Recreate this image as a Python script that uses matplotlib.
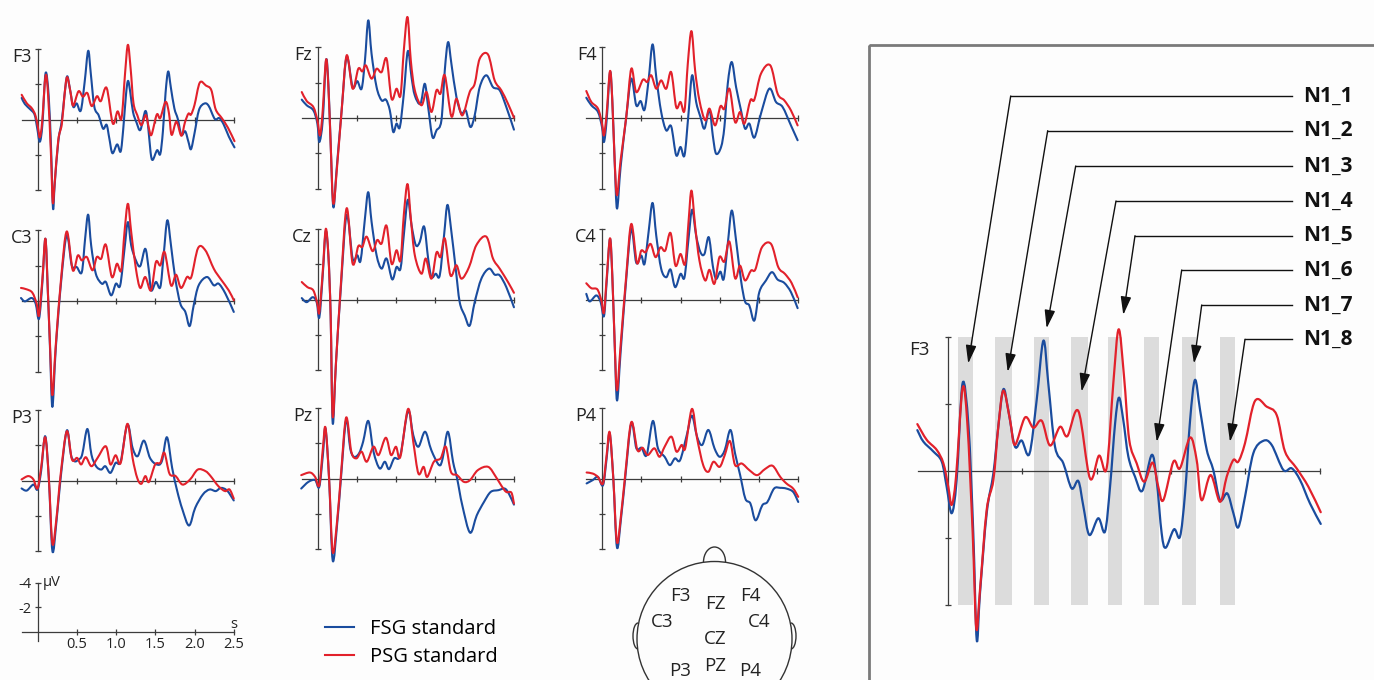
import matplotlib
matplotlib.use('Agg')
import matplotlib.pyplot as plt
from matplotlib.patches import Rectangle, Circle, Arc, PathPatch
from matplotlib.path import Path
from matplotlib.lines import Line2D
from matplotlib.ticker import FormatStrFormatter

plt.rcParams['font.family'] = ['Open Sans', 'DejaVu Sans']
plt.rcParams['axes.unicode_minus'] = False

W, H = 1374, 680
BLUE = '#1a4c9e'
RED = '#e2212b'
AXC = '#3c3c3c'

# grand-average ERPs, time in s, amplitude in uV (negative plotted upwards)
F3_T_FSG = [-0.204, -0.164, -0.096, -0.04, -0.007, 0.027, 0.06, 0.1, 0.14, 0.172,
            0.195, 0.217, 0.262, 0.307, 0.34, 0.374, 0.407, 0.452, 0.497, 0.549,
            0.598, 0.643, 0.676, 0.721, 0.777, 0.833, 0.878, 0.912, 0.952, 1.012,
            1.057, 1.091, 1.125, 1.151, 1.18, 1.214, 1.259, 1.308, 1.371, 1.404,
            1.438, 1.465, 1.521, 1.561, 1.595, 1.629, 1.662, 1.696, 1.741, 1.785,
            1.83, 1.879, 1.92, 1.953, 1.998, 2.054, 2.121, 2.177, 2.256, 2.312,
            2.368, 2.435, 2.507]
F3_UV_FSG = [-1.22, -0.88, -0.58, -0.28, 0.47, 1.26, 0.27, -2.62, -1.32, 1.86,
             5.04, 3.65, 1.26, 0.07, -1.32, -2.44, -1.82, -0.73, -0.91, -0.51,
             -2.12, -3.89, -2.62, -0.73, -0.23, 0.52, 0.3, 1.06, 1.91, 1.41,
             1.81, 0.47, -1.42, -2.19, -1.52, -0.43, 0.17, 0.59, -0.48, 0.27,
             1.86, 2.29, 1.74, 1.96, 0.67, -1.52, -2.72, -1.82, -0.63, -0.03,
             0.87, 0.67, 1.26, 1.68, 0.77, -0.53, -0.9, -0.78, -0.03, -0.08,
             0.27, 0.97, 1.58]
F3_T_PSG = [-0.204, -0.141, -0.074, -0.029, 0.004, 0.027, 0.056, 0.1, 0.132, 0.168,
            0.192, 0.217, 0.262, 0.307, 0.34, 0.374, 0.419, 0.452, 0.52, 0.576,
            0.632, 0.688, 0.755, 0.804, 0.878, 0.956, 1.017, 1.068, 1.113, 1.149,
            1.185, 1.22, 1.27, 1.321, 1.377, 1.415, 1.449, 1.517, 1.561, 1.629,
            1.673, 1.706, 1.767, 1.83, 1.875, 1.92, 1.953, 1.998, 2.065, 2.144,
            2.211, 2.267, 2.345, 2.424, 2.507]
F3_UV_PSG = [-1.4, -0.93, -0.63, -0.23, 0.47, 1.01, 0.17, -2.47, -1.42, 1.86,
             4.7, 3.55, 1.16, 0.27, -1.32, -2.4, -1.52, -0.78, -1.6, -1.29,
             -1.5, -0.76, -1.32, -1.04, -1.79, 0.22, -0.46, -0.08, -2.62, -4.23,
             -2.82, -0.93, -0.23, 0.32, -0.25, 0.47, 0.87, -0.28, -0.08, -1.0,
             -0.33, 0.87, 0.12, 0.92, 0.17, -0.33, -0.28, -0.83, -2.09, -1.92,
             -1.67, -0.58, -0.08, 0.47, 1.23]

FZ_T_FSG = [-0.203, -0.14, -0.055, -0.004, 0.021, 0.064, 0.106, 0.136, 0.165, 0.199,
            0.24, 0.305, 0.369, 0.445, 0.504, 0.559, 0.602, 0.644, 0.686, 0.75,
            0.814, 0.869, 0.919, 0.962, 1.004, 1.047, 1.097, 1.148, 1.195, 1.237,
            1.309, 1.364, 1.407, 1.462, 1.513, 1.576, 1.619, 1.661, 1.703, 1.767,
            1.831, 1.886, 1.945, 2.0, 2.064, 2.148, 2.233, 2.318, 2.403, 2.5]
FZ_UV_FSG = [-1.04, -0.72, -0.43, 0.32, 1.36, 0.13, -3.26, -1.94, 1.45, 5.04,
             2.96, -0.43, -3.45, -1.75, -2.09, -1.66, -3.26, -5.53, -3.64, -1.75,
             -1.0, -1.04, -0.43, 0.79, 0.32, 0.51, -1.38, -3.79, -2.32, -1.28,
             -0.81, -1.94, -0.62, 1.08, 0.7, 0.13, -2.7, -4.3, -3.08, -1.19,
             -0.25, -0.43, 0.51, -0.15, -1.75, -2.42, -1.75, -1.57, -0.62, 0.66]
FZ_T_PSG = [-0.203, -0.14, -0.055, -0.004, 0.03, 0.064, 0.106, 0.136, 0.165, 0.199,
            0.25, 0.305, 0.369, 0.445, 0.517, 0.568, 0.614, 0.686, 0.75, 0.814,
            0.877, 0.941, 1.004, 1.055, 1.097, 1.144, 1.186, 1.237, 1.322, 1.386,
            1.449, 1.513, 1.564, 1.619, 1.703, 1.767, 1.843, 1.936, 2.0, 2.064,
            2.169, 2.254, 2.339, 2.424, 2.5]
FZ_UV_PSG = [-1.47, -0.96, -0.62, 0.13, 0.98, -0.43, -3.3, -1.75, 1.45, 4.85,
             2.58, -0.43, -3.55, -1.66, -2.79, -2.64, -2.98, -2.23, -2.79, -2.6,
             -3.36, -1.09, -1.66, -1.28, -3.83, -5.72, -3.26, -1.57, -0.72, -1.47,
             -0.34, -1.57, -1.38, -2.42, -0.09, -1.09, -0.15, -1.47, -1.94, -3.36,
             -3.6, -2.13, -1.57, -0.81, -0.02]

F4_T_FSG = [-0.2, -0.136, -0.051, 0.0, 0.025, 0.059, 0.102, 0.131, 0.161, 0.191,
            0.237, 0.309, 0.373, 0.436, 0.492, 0.542, 0.593, 0.644, 0.691, 0.754,
            0.818, 0.881, 0.945, 1.0, 1.051, 1.102, 1.148, 1.199, 1.254, 1.305,
            1.369, 1.411, 1.453, 1.517, 1.559, 1.602, 1.653, 1.708, 1.771, 1.822,
            1.877, 1.941, 2.025, 2.131, 2.216, 2.301, 2.407, 2.492]
F4_UV_FSG = [-1.15, -0.72, -0.34, 0.51, 1.36, 0.13, -2.6, -1.0, 2.4, 5.13,
             2.77, -0.06, -2.23, -0.72, -0.96, -0.47, -2.13, -4.17, -2.32, -0.34,
             0.7, 0.47, 2.11, 1.64, 2.11, -0.25, -2.42, -0.91, -0.06, 0.6,
             -0.47, 0.98, 2.02, 1.64, 0.51, -1.94, -3.17, -1.75, -0.43, 0.6,
             0.32, 1.11, -0.25, -1.66, -0.91, -0.62, 0.42, 1.26]
F4_T_PSG = [-0.2, -0.136, -0.051, 0.0, 0.025, 0.059, 0.102, 0.131, 0.161, 0.191,
            0.237, 0.309, 0.373, 0.436, 0.521, 0.576, 0.627, 0.691, 0.754, 0.818,
            0.881, 0.945, 1.0, 1.051, 1.093, 1.14, 1.186, 1.241, 1.314, 1.369,
            1.441, 1.508, 1.559, 1.623, 1.695, 1.758, 1.814, 1.89, 1.941, 2.025,
            2.144, 2.237, 2.322, 2.407, 2.492]
F4_UV_PSG = [-1.53, -0.91, -0.53, 0.32, 0.98, -0.25, -2.66, -1.0, 2.4, 4.38,
             2.4, -0.06, -2.79, -1.47, -2.17, -2.04, -2.42, -1.66, -2.13, -1.66,
             -2.6, -0.62, -0.91, -0.43, -3.08, -4.92, -2.7, -1.0, 0.13, -0.53,
             0.42, -0.66, -0.53, -1.66, 0.23, -0.34, 0.32, -1.0, -1.04, -2.51,
             -2.98, -1.38, -1.0, -0.43, 0.42]

C3_T_FSG = [-0.213, -0.162, -0.077, -0.026, 0.017, 0.06, 0.098, 0.128, 0.157, 0.187,
            0.23, 0.298, 0.37, 0.434, 0.498, 0.562, 0.604, 0.643, 0.681, 0.74,
            0.817, 0.868, 0.936, 0.996, 1.051, 1.106, 1.149, 1.191, 1.251, 1.306,
            1.37, 1.413, 1.447, 1.506, 1.562, 1.604, 1.651, 1.698, 1.753, 1.817,
            1.881, 1.936, 1.987, 2.051, 2.157, 2.243, 2.306, 2.391, 2.498]
C3_UV_FSG = [-0.17, 0.02, -0.17, 0.15, 1.0, -1.08, -3.53, -0.7, 2.7, 6.0,
             2.7, -1.08, -3.72, -2.02, -1.92, -1.64, -3.53, -4.89, -3.15, -1.55,
             -0.98, -1.08, -0.32, -0.98, -0.89, -2.96, -4.47, -3.15, -2.3, -1.98,
             -2.96, -1.83, -0.6, -1.08, -0.79, -2.58, -4.57, -3.15, -1.26, 0.15,
             0.62, 1.42, 0.25, -0.89, -1.36, -0.89, -0.98, -0.42, 0.62]
C3_T_PSG = [-0.213, -0.14, -0.068, -0.013, 0.017, 0.06, 0.098, 0.128, 0.157, 0.187,
            0.23, 0.298, 0.37, 0.447, 0.511, 0.562, 0.626, 0.698, 0.753, 0.809,
            0.868, 0.945, 1.009, 1.064, 1.106, 1.149, 1.191, 1.251, 1.306, 1.37,
            1.443, 1.506, 1.562, 1.617, 1.698, 1.762, 1.826, 1.902, 1.957, 2.043,
            2.136, 2.243, 2.328, 2.434, 2.498]
C3_UV_PSG = [-0.74, -0.66, -0.47, 0.15, 0.81, -1.26, -3.53, -0.7, 2.51, 5.34,
             2.51, -1.26, -3.94, -1.74, -2.58, -2.3, -2.49, -1.74, -2.49, -2.4,
             -3.19, -1.36, -2.11, -1.74, -3.91, -5.51, -3.91, -1.83, -0.74, -1.36,
             -0.6, -2.21, -2.02, -2.77, -0.89, -1.49, -0.74, -1.36, -1.36, -3.0,
             -2.87, -1.83, -1.26, -0.6, -0.04]

CZ_T_FSG = [-0.203, -0.14, -0.064, -0.013, 0.021, 0.064, 0.102, 0.136, 0.165, 0.191,
            0.233, 0.297, 0.369, 0.445, 0.504, 0.547, 0.602, 0.644, 0.686, 0.75,
            0.814, 0.877, 0.949, 1.004, 1.055, 1.097, 1.148, 1.195, 1.25, 1.301,
            1.356, 1.407, 1.449, 1.504, 1.555, 1.61, 1.653, 1.703, 1.758, 1.809,
            1.873, 1.936, 2.0, 2.085, 2.182, 2.254, 2.318, 2.403, 2.5]
CZ_UV_FSG = [-0.08, 0.15, -0.13, 0.15, 1.01, -1.37, -3.84, -2.51, 0.91, 7.0,
             3.57, -0.8, -4.79, -2.32, -2.51, -2.22, -4.6, -6.08, -4.41, -2.51,
             -1.75, -2.32, -1.14, -1.84, -1.75, -3.65, -5.65, -4.22, -3.08, -3.27,
             -4.13, -2.32, -1.27, -1.46, -1.37, -3.65, -5.36, -3.84, -1.75, 0.15,
             0.91, 1.48, 0.15, -1.18, -1.75, -1.41, -1.37, -0.7, 0.44]
CZ_T_PSG = [-0.203, -0.131, -0.055, -0.004, 0.021, 0.064, 0.102, 0.136, 0.165, 0.191,
            0.233, 0.297, 0.369, 0.445, 0.517, 0.568, 0.623, 0.699, 0.758, 0.814,
            0.877, 0.941, 1.004, 1.055, 1.097, 1.144, 1.186, 1.237, 1.322, 1.377,
            1.449, 1.513, 1.564, 1.619, 1.691, 1.767, 1.831, 1.928, 2.021, 2.148,
            2.233, 2.318, 2.424, 2.5]
CZ_UV_PSG = [-0.99, -0.7, -0.51, 0.25, 0.72, -1.56, -3.99, -2.51, 0.91, 6.62,
             3.57, -0.99, -5.17, -2.03, -3.02, -2.98, -3.56, -2.74, -3.37, -3.17,
             -4.18, -2.03, -2.79, -2.22, -4.79, -6.54, -4.6, -2.51, -1.46, -2.32,
             -1.18, -2.66, -2.41, -3.46, -1.37, -1.94, -1.18, -1.84, -3.08, -3.56,
             -2.32, -1.75, -0.99, -0.38]

C4_T_FSG = [-0.2, -0.157, -0.072, -0.017, 0.025, 0.059, 0.102, 0.131, 0.161, 0.191,
            0.237, 0.309, 0.373, 0.436, 0.5, 0.542, 0.593, 0.644, 0.691, 0.754,
            0.818, 0.873, 0.932, 1.0, 1.051, 1.102, 1.148, 1.199, 1.254, 1.305,
            1.36, 1.411, 1.453, 1.508, 1.551, 1.602, 1.653, 1.708, 1.771, 1.822,
            1.877, 1.941, 2.004, 2.089, 2.165, 2.237, 2.322, 2.407, 2.492]
C4_UV_FSG = [-0.32, 0.11, -0.23, 0.15, 0.94, -0.98, -3.43, -1.36, 2.42, 5.72,
             2.98, -1.17, -4.0, -2.09, -2.49, -2.02, -3.81, -5.47, -3.62, -1.74,
             -1.26, -1.7, -0.7, -1.45, -1.26, -3.43, -5.09, -3.62, -2.68, -2.58,
             -3.53, -1.92, -1.17, -1.58, -1.17, -3.15, -5.04, -3.34, -1.08, 0.11,
             0.34, 1.19, -0.42, -1.08, -1.55, -1.13, -0.94, -0.42, 0.49]
C4_T_PSG = [-0.2, -0.136, -0.059, -0.008, 0.025, 0.059, 0.102, 0.131, 0.161, 0.191,
            0.237, 0.309, 0.373, 0.445, 0.5, 0.555, 0.619, 0.682, 0.746, 0.805,
            0.873, 0.936, 1.0, 1.059, 1.102, 1.14, 1.186, 1.241, 1.314, 1.369,
            1.432, 1.496, 1.559, 1.623, 1.695, 1.758, 1.822, 1.898, 1.953, 2.038,
            2.153, 2.246, 2.331, 2.415, 2.492]
C4_UV_PSG = [-0.92, -0.64, -0.57, 0.06, 0.75, -1.17, -3.47, -1.36, 2.42, 5.15,
             2.6, -1.36, -4.28, -2.08, -2.77, -2.68, -3.15, -2.4, -2.96, -2.77,
             -3.77, -1.92, -2.58, -2.02, -4.38, -6.17, -4.19, -2.21, -1.08, -1.68,
             -0.89, -2.4, -2.15, -3.28, -1.21, -1.92, -1.08, -1.64, -1.7, -2.96,
             -3.15, -1.83, -1.45, -0.94, -0.13]

P3_T_FSG = [-0.203, -0.137, -0.052, 0.0, 0.046, 0.098, 0.144, 0.19, 0.242, 0.295,
            0.373, 0.425, 0.471, 0.524, 0.569, 0.635, 0.687, 0.746, 0.812, 0.864,
            0.929, 0.995, 1.06, 1.145, 1.211, 1.276, 1.355, 1.433, 1.518, 1.584,
            1.649, 1.715, 1.78, 1.846, 1.931, 2.009, 2.107, 2.192, 2.271, 2.336,
            2.415, 2.5]
P3_UV_FSG = [0.45, 0.57, 0.23, 0.51, -0.53, -2.51, -0.15, 4.0, 2.3, -0.15,
             -2.83, -1.47, -1.09, -1.19, -1.47, -2.92, -1.47, -0.81, -0.62, -0.81,
             -0.43, -1.0, -1.09, -3.17, -1.85, -1.38, -2.26, -1.28, -0.91, -1.09,
             -2.45, -0.72, 0.6, 1.64, 2.55, 1.55, 0.79, 0.51, 0.6, 0.42,
             0.57, 1.13]
P3_T_PSG = [-0.203, -0.118, -0.052, 0.0, 0.046, 0.098, 0.144, 0.19, 0.242, 0.295,
            0.373, 0.439, 0.504, 0.556, 0.615, 0.687, 0.765, 0.87, 0.929, 0.995,
            1.06, 1.145, 1.211, 1.27, 1.322, 1.374, 1.42, 1.499, 1.564, 1.616,
            1.682, 1.76, 1.846, 1.944, 2.042, 2.14, 2.205, 2.304, 2.389, 2.447,
            2.5]
P3_UV_PSG = [-0.06, -0.25, -0.06, 0.45, -0.72, -2.45, -0.15, 3.58, 2.11, -0.34,
             -2.79, -1.19, -1.28, -0.91, -1.32, -0.81, -1.28, -1.94, -0.91, -1.43,
             -1.0, -3.21, -1.28, -0.15, 0.19, -0.25, 0.08, -0.91, -1.0, -1.57,
             -0.38, -0.25, 0.23, -0.06, -0.62, -0.53, -0.25, 0.32, 0.6, 0.51,
             1.02]

PZ_T_FSG = [-0.21, -0.118, -0.033, 0.02, 0.066, 0.099, 0.145, 0.191, 0.25, 0.296,
            0.362, 0.414, 0.461, 0.526, 0.579, 0.645, 0.711, 0.789, 0.855, 0.908,
            0.974, 1.053, 1.151, 1.217, 1.283, 1.368, 1.447, 1.546, 1.592, 1.658,
            1.724, 1.776, 1.842, 1.941, 2.026, 2.118, 2.204, 2.303, 2.382, 2.434,
            2.5]
PZ_UV_FSG = [0.57, 0.19, 0.09, 0.47, -1.33, -2.84, 0.0, 4.64, 2.46, 0.0,
             -3.32, -1.71, -1.23, -1.42, -2.09, -3.26, -1.52, -0.57, -0.95, -0.53,
             -1.14, -1.33, -3.83, -2.46, -1.8, -2.65, -1.61, -0.76, -1.14, -2.65,
             -0.95, 0.0, 1.52, 3.07, 2.09, 1.33, 0.76, 0.66, 0.57, 0.85,
             1.48]
PZ_T_PSG = [-0.21, -0.099, -0.033, 0.02, 0.066, 0.099, 0.145, 0.191, 0.25, 0.296,
            0.362, 0.428, 0.493, 0.559, 0.625, 0.711, 0.776, 0.868, 0.934, 0.997,
            1.053, 1.151, 1.217, 1.283, 1.349, 1.395, 1.48, 1.566, 1.632, 1.697,
            1.776, 1.862, 1.941, 2.039, 2.171, 2.27, 2.336, 2.401, 2.467, 2.5]
PZ_UV_PSG = [-0.19, -0.34, -0.09, 0.38, -1.71, -2.88, 0.0, 4.17, 2.27, -0.19,
             -3.45, -1.52, -1.14, -1.52, -0.95, -1.8, -1.33, -2.31, -1.33, -1.8,
             -1.23, -3.94, -2.09, -0.28, -0.66, -0.09, -0.95, -1.14, -1.8, -0.38,
             -0.19, 0.19, 0.09, -0.47, -0.66, -0.09, 0.38, 0.76, 0.8, 1.42]

P4_T_FSG = [-0.196, -0.118, -0.052, 0.013, 0.059, 0.098, 0.144, 0.19, 0.242, 0.295,
            0.373, 0.438, 0.504, 0.569, 0.648, 0.713, 0.798, 0.864, 0.929, 0.995,
            1.08, 1.145, 1.211, 1.276, 1.355, 1.433, 1.499, 1.564, 1.636, 1.695,
            1.76, 1.826, 1.891, 1.957, 2.042, 2.107, 2.192, 2.271, 2.349, 2.435,
            2.5]
P4_UV_FSG = [0.28, 0.09, -0.09, 0.38, -1.14, -2.56, 0.0, 3.89, 2.27, 0.0,
             -3.13, -1.71, -1.74, -1.33, -3.26, -1.71, -1.23, -0.76, -1.14, -1.04,
             -2.46, -3.56, -2.37, -1.9, -2.75, -1.71, -1.23, -1.61, -2.75, -1.42,
             -0.19, 1.14, 1.42, 2.37, 1.52, 1.33, 0.57, 0.53, 0.57, 0.76,
             1.33]
P4_T_PSG = [-0.196, -0.118, -0.052, 0.013, 0.059, 0.098, 0.144, 0.19, 0.242, 0.295,
            0.373, 0.451, 0.517, 0.582, 0.667, 0.733, 0.798, 0.884, 0.949, 1.014,
            1.06, 1.145, 1.211, 1.289, 1.355, 1.42, 1.499, 1.564, 1.63, 1.695,
            1.78, 1.878, 1.976, 2.075, 2.173, 2.271, 2.349, 2.435, 2.5]
P4_UV_PSG = [-0.34, -0.28, -0.09, 0.28, -1.33, -2.62, 0.0, 3.6, 2.09, -0.19,
             -3.19, -1.61, -1.74, -1.33, -1.71, -1.23, -1.8, -2.37, -1.52, -1.9,
             -1.71, -3.94, -2.28, -0.76, -0.38, -0.95, -0.66, -1.33, -2.12, -0.76,
             -0.85, -0.47, -0.19, -0.53, -0.72, -0.09, 0.28, 0.57, 1.04]

# stimulus windows and N1 peaks marked in the enlarged F3 plot
BAND_START = [0.071, 0.32, 0.577, 0.826, 1.075, 1.32, 1.576, 1.83]
BAND_END = [0.168, 0.43, 0.68, 0.94, 1.17, 1.42, 1.67, 1.93]
N1_LABELS = ['N1_1', 'N1_2', 'N1_3', 'N1_4', 'N1_5', 'N1_6', 'N1_7', 'N1_8']
N1_TIP_T = [0.138, 0.403, 0.665, 0.9, 1.18, 1.405, 1.655, 1.897]
N1_TIP_UV = [-3.21, -2.96, -4.26, -2.37, -4.66, -0.87, -3.21, -0.87]

SCALE_X_TICKS = [0.5, 1.0, 1.5, 2.0, 2.5]
SCALE_Y_TICKS = [-4, -2]
HEAD_LABELS = ['F3', 'FZ', 'F4', 'C3', 'CZ', 'C4', 'P3', 'PZ', 'P4']


fig = plt.figure(figsize=(W / 100, H / 100), dpi=100, facecolor='#fdfdfd')


def erp_axes(ox, oy, sx, sy, vmin=-8.0, vmax=8.0, t0=-0.3, t1=2.6, ybounds=(-4, 4)):
    # axes whose (0 s, 0 uV) point lands on pixel (ox, oy), negative up
    rect = [(ox + t0 * sx) / W, 1 - (oy + vmax * sy) / H,
            (t1 - t0) * sx / W, (vmax - vmin) * sy / H]
    ax = fig.add_axes(rect)
    ax.set_xlim(t0, t1)
    ax.set_ylim(vmax, vmin)
    ax.patch.set_visible(False)
    ax.spines['top'].set_visible(False)
    ax.spines['right'].set_visible(False)
    for side in ('left', 'bottom'):
        ax.spines[side].set_position(('data', 0))
        ax.spines[side].set_color(AXC)
        ax.spines[side].set_linewidth(0.9)
    ax.spines['left'].set_bounds(*ybounds)
    ax.spines['bottom'].set_bounds(-0.2, 2.5)
    ax.set_xticks(SCALE_X_TICKS)
    ax.set_yticks([-4, -2, 2, 4])
    ax.tick_params(direction='inout', length=4.5, width=0.9, color=AXC,
                   labelbottom=False, labelleft=False)
    return ax


def smooth_path(t, uv):
    # Catmull-Rom style bezier through the read samples (drawing only)
    pts = list(zip(t, uv))
    n = len(pts)
    verts = [pts[0]]
    codes = [Path.MOVETO]
    for i in range(n - 1):
        p0 = pts[max(i - 1, 0)]
        p1 = pts[i]
        p2 = pts[i + 1]
        p3 = pts[min(i + 2, n - 1)]
        c1 = (p1[0] + (p2[0] - p0[0]) / 6, p1[1] + (p2[1] - p0[1]) / 6)
        c2 = (p2[0] - (p3[0] - p1[0]) / 6, p2[1] - (p3[1] - p1[1]) / 6)
        verts += [c1, c2, p2]
        codes += [Path.CURVE4] * 3
    return Path(verts, codes)


def draw_pair(ax, t_fsg, uv_fsg, t_psg, uv_psg, lw=1.5):
    for t, uv, col, z in ((t_fsg, uv_fsg, BLUE, 3), (t_psg, uv_psg, RED, 4)):
        ax.add_patch(PathPatch(smooth_path(t, uv), fill=False, ec=col, lw=lw,
                               zorder=z, joinstyle='round', capstyle='round'))


SX, SY = 78.5, 17.65
panels = [
    ('F3', 37.7, 119.5, F3_T_FSG, F3_UV_FSG, F3_T_PSG, F3_UV_PSG),
    ('Fz', 317.7, 118.0, FZ_T_FSG, FZ_UV_FSG, FZ_T_PSG, FZ_UV_PSG),
    ('F4', 602.0, 118.0, F4_T_FSG, F4_UV_FSG, F4_T_PSG, F4_UV_PSG),
    ('C3', 37.7, 301.0, C3_T_FSG, C3_UV_FSG, C3_T_PSG, C3_UV_PSG),
    ('Cz', 317.7, 299.5, CZ_T_FSG, CZ_UV_FSG, CZ_T_PSG, CZ_UV_PSG),
    ('C4', 602.0, 299.5, C4_T_FSG, C4_UV_FSG, C4_T_PSG, C4_UV_PSG),
    ('P3', 37.5, 480.5, P3_T_FSG, P3_UV_FSG, P3_T_PSG, P3_UV_PSG),
    ('Pz', 317.7, 478.5, PZ_T_FSG, PZ_UV_FSG, PZ_T_PSG, PZ_UV_PSG),
    ('P4', 602.0, 478.5, P4_T_FSG, P4_UV_FSG, P4_T_PSG, P4_UV_PSG),
]

for name, ox, oy, tb, ub, tr, ur in panels:
    ax = erp_axes(ox, oy, SX, SY)
    draw_pair(ax, tb, ub, tr, ur)
    ax.text(-0.07, -3.55, name, ha='right', va='center', fontsize=13, color='#222')

# scale bar
ax_s = erp_axes(37.5, 659, SX, SY, vmin=-5.0, vmax=1.2, ybounds=(-4, 0.8))
ax_s.set_yticks(SCALE_Y_TICKS)
ax_s.tick_params(labelbottom=True, labelleft=True, labelsize=10.5, labelcolor='#222', pad=2)
ax_s.xaxis.set_major_formatter(FormatStrFormatter('%.1f'))
ax_s.yaxis.set_major_formatter(FormatStrFormatter('%d'))
ax_s.text(0.07, -4, 'µV', ha='left', va='center', fontsize=10.5, color='#222')
ax_s.text(2.5, -0.6, 's', ha='center', va='center', fontsize=10.5, color='#222')

# enlarged F3 with stimulus windows
ax_r = erp_axes(947.7, 471, 148.8, 33.5, vmin=-6.0, vmax=6.0)
ax_r.bar([(a + b) / 2 for a, b in zip(BAND_START, BAND_END)], 8, bottom=-4,
         width=[b - a for a, b in zip(BAND_START, BAND_END)], color='#dcdcdc', zorder=1)
draw_pair(ax_r, F3_T_FSG, F3_UV_FSG, F3_T_PSG, F3_UV_PSG, lw=1.6)
ax_r.text(-0.125, -3.6, 'F3', ha='right', va='center', fontsize=13.5, color='#222')

# overlay in pixel coordinates for frame, callouts, legend and head
ax_o = fig.add_axes([0, 0, 1, 1])
ax_o.set_xlim(0, W)
ax_o.set_ylim(H, 0)
ax_o.set_axis_off()
ax_o.patch.set_visible(False)

ax_o.add_patch(Rectangle((869, 45), 540, 700, fill=False, ec='#7a7a7a', lw=2))

label_y = [96, 130.7, 166, 201, 235.7, 270, 305, 339.3]
corner_x = [1010.7, 1047.7, 1075.7, 1116, 1135, 1181.7, 1201.7, 1245]
for lab, y, cx, tt, tu in zip(N1_LABELS, label_y, corner_x, N1_TIP_T, N1_TIP_UV):
    ax_o.plot([1292, cx], [y, y], color='#111', lw=1)
    ax_o.annotate('', xy=(tt, tu), xycoords=ax_r.transData, xytext=(cx, y),
                  textcoords='data',
                  arrowprops=dict(arrowstyle='-|>,head_length=1.1,head_width=0.32',
                                  mutation_scale=10, color='#111', lw=1,
                                  shrinkA=0, shrinkB=0))
    ax_o.text(1303, y, lab, ha='left', va='center', fontsize=15,
              fontweight='bold', color='#111')

handles = [Line2D([], [], color=BLUE, lw=1.5), Line2D([], [], color=RED, lw=1.5)]
ax_o.legend(handles, ['FSG standard', 'PSG standard'], loc='upper left',
            bbox_to_anchor=(325 / W, 1 - 619 / H), bbox_transform=fig.transFigure,
            frameon=False, fontsize=14.5, handlelength=1.45, handletextpad=0.8,
            labelspacing=0.42, borderpad=0, borderaxespad=0)

# head schematic
hc = '#333333'
ax_o.add_patch(Circle((714.5, 639), 77.5, fill=False, ec=hc, lw=1))
ax_o.add_patch(Arc((714.5, 562), 22, 30, theta1=180, theta2=360, ec=hc, lw=1))
ax_o.add_patch(Arc((638, 636), 10, 26, theta1=90, theta2=270, ec=hc, lw=1))
ax_o.add_patch(Arc((791, 636), 10, 26, theta1=-90, theta2=90, ec=hc, lw=1))
head_xy = [(680, 596), (715, 604), (750, 596), (662, 622), (715, 639),
           (759, 622), (680, 671), (715, 666), (750, 671)]
for lab, (x, y) in zip(HEAD_LABELS, head_xy):
    ax_o.text(x, y, lab, ha='center', va='center', fontsize=13.5, color='#222')

fig.savefig('out.png', dpi=100, facecolor=fig.get_facecolor())
